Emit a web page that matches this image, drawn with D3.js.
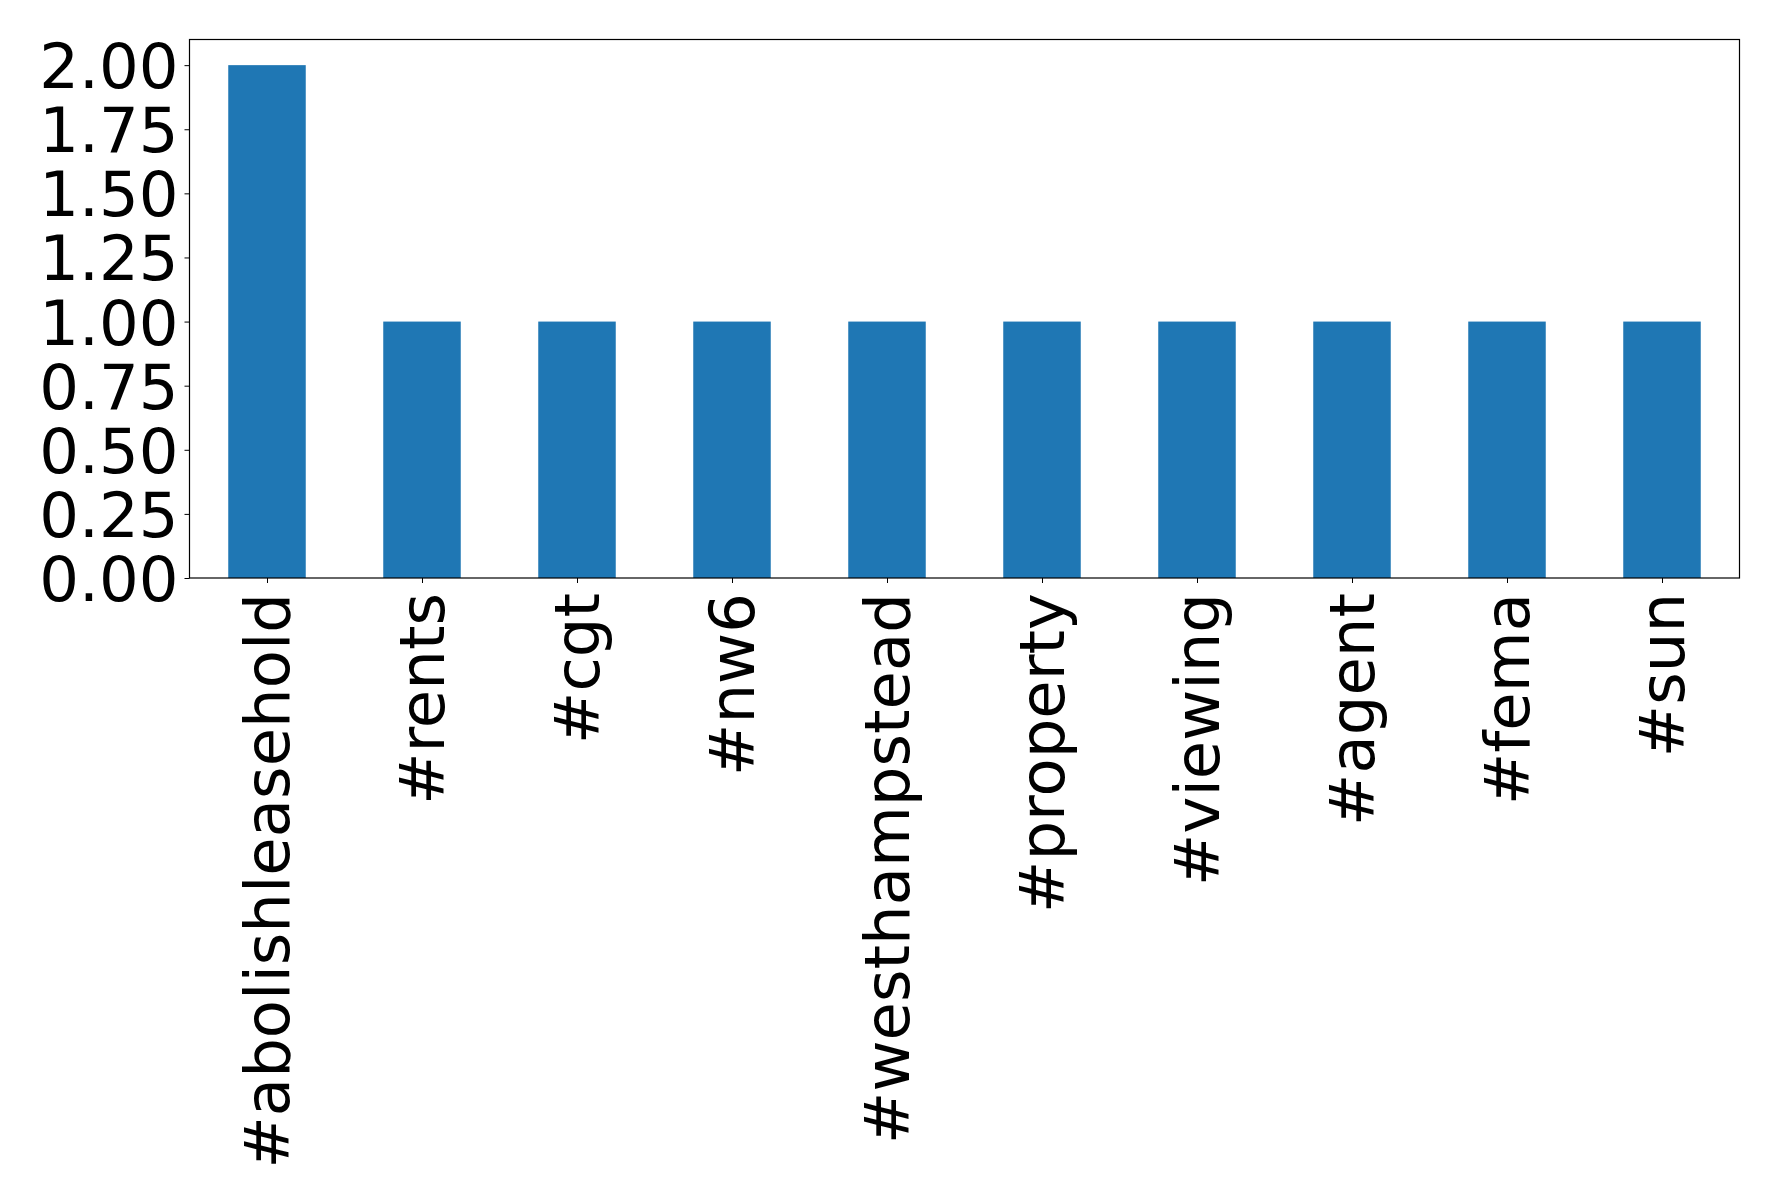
<!DOCTYPE html>
<html><head><meta charset="utf-8">
<script src="https://cdn.jsdelivr.net/npm/d3@7"></script>
<style>body{margin:0;background:#fff}svg{display:block}text{font-family:"DejaVu Sans";}</style>
</head><body>
<script>
const categories = ["#abolishleasehold","#rents","#cgt","#nw6","#westhampstead","#property","#viewing","#agent","#fema","#sun"];
const values = [2,1,1,1,1,1,1,1,1,1];
const yTicks = [0,0.25,0.5,0.75,1,1.25,1.5,1.75,2];

const W=1778,H=1203;
const m={left:189.5,top:39.5,right:1739.5,bottom:578};
const svg=d3.select("body").append("svg").attr("width",W).attr("height",H);
const x=d3.scaleLinear().domain([-0.5,categories.length-0.5]).range([m.left,m.right]);
const y=d3.scaleLinear().domain([0,2.1]).range([m.bottom,m.top]);
const bw=(x(1)-x(0))*0.5;

svg.append("g").selectAll("rect").data(values).join("rect")
 .attr("x",(d,i)=>x(i)-bw/2).attr("width",bw)
 .attr("y",d=>y(d)).attr("height",d=>y(0)-y(d)).attr("fill","#1f77b4");

const fs=62.5;
const ya=svg.append("g").attr("transform",`translate(${m.left},0)`)
 .call(d3.axisLeft(y).tickValues(yTicks).tickFormat(d3.format(".2f")).tickSize(5).tickPadding(6));
ya.select(".domain").remove();
ya.selectAll("text").attr("font-size",fs).attr("font-family","DejaVu Sans").attr("fill","#000").attr("dy","0.36em");
ya.selectAll("line").attr("stroke","#000").attr("stroke-width",1);

const xa=svg.append("g").attr("transform",`translate(0,${m.bottom})`)
 .call(d3.axisBottom(x).tickValues(d3.range(categories.length)).tickFormat(i=>categories[i]).tickSize(5).tickPadding(8));
xa.select(".domain").remove();
xa.selectAll("line").attr("stroke","#000");
xa.selectAll("text").attr("font-size",fs).attr("font-family","DejaVu Sans").attr("fill","#000")
 .attr("text-anchor","end")
 .each(function(){
   d3.select(this).attr("y",null).attr("x",null)
    .attr("transform","translate(-1,15) rotate(-90)")
    .attr("dy","0.36em");
 });

svg.append("rect").attr("x",m.left).attr("y",m.top).attr("width",m.right-m.left).attr("height",m.bottom-m.top)
 .attr("fill","none").attr("stroke","#000").attr("stroke-width",1.2);
</script>
</body></html>
